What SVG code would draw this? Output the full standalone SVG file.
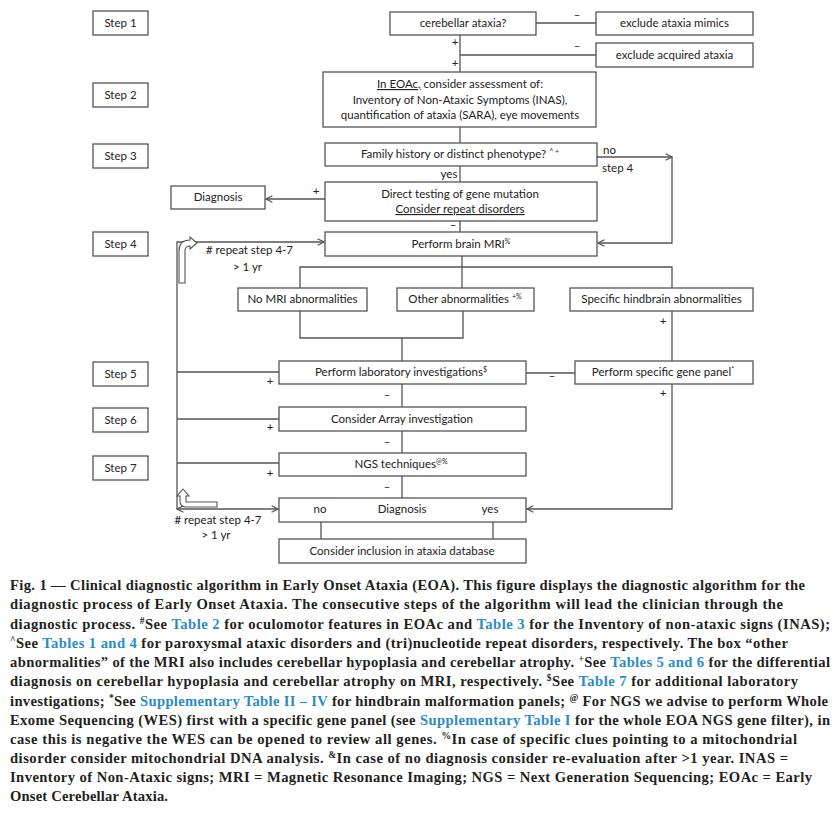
<svg xmlns="http://www.w3.org/2000/svg" width="840" height="813" viewBox="0 0 840 813">
<defs>
<style>
.box{fill:#fff;stroke:#555;stroke-width:1.3}
.t{font-family:Lato,"Open Sans",sans-serif;font-size:11.5px;fill:#222;text-anchor:middle}
.l{font-family:Lato,"Open Sans",sans-serif;font-size:11.5px;fill:#222}
.sm{font-size:7px}
#connectors path{fill:none;stroke:#555;stroke-width:1.3}
.cap{font-family:"Liberation Serif",serif;font-weight:bold;font-size:14.6px;fill:#231f20}
.lnk{fill:#2b8cc4}
.sup{font-size:9.5px}
.hollow{fill:#fff;stroke:#555;stroke-width:1.1}
</style>
<marker id="ar" viewBox="0 0 10 10" refX="9" refY="5" markerWidth="8" markerHeight="8" markerUnits="userSpaceOnUse" orient="auto-start-reverse">
<path d="M1,1 L9,5 L1,9" fill="none" stroke="#555" stroke-width="1.5"/>
</marker>
</defs>
<rect width="840" height="813" fill="#fff"/>

<g id="steps">
<g id="step1"><rect class="box" x="93" y="11" width="55" height="24"/><text class="t" x="120.5" y="27">Step 1</text></g>
<g id="step2"><rect class="box" x="93" y="83" width="55" height="24"/><text class="t" x="120.5" y="99">Step 2</text></g>
<g id="step3"><rect class="box" x="93" y="144" width="55" height="24"/><text class="t" x="120.5" y="160">Step 3</text></g>
<g id="step4"><rect class="box" x="93" y="232" width="55" height="24"/><text class="t" x="120.5" y="248">Step 4</text></g>
<g id="step5"><rect class="box" x="93" y="362" width="55" height="24"/><text class="t" x="120.5" y="378">Step 5</text></g>
<g id="step6"><rect class="box" x="93" y="408" width="55" height="24"/><text class="t" x="120.5" y="424">Step 6</text></g>
<g id="step7"><rect class="box" x="93" y="456" width="55" height="24"/><text class="t" x="120.5" y="472">Step 7</text></g>
</g>

<g id="connectors">
<path d="M536,23 H596"/>
<path d="M460,35 V72"/>
<path d="M460,55 H596"/>
<path d="M460,127 V143"/>
<path d="M597,157 H672" marker-end="url(#ar)"/>
<path d="M672,157 V243 H598" marker-end="url(#ar)"/>
<path d="M460,166 V182"/>
<path d="M325,199 H266" marker-end="url(#ar)"/>
<path d="M460,221 V232"/>
<path d="M177,509 V242 H324" marker-end="url(#ar)"/>
<path d="M177,509 H278" marker-start="url(#ar)" marker-end="url(#ar)"/>
<path d="M462,256 V267"/>
<path d="M300,288 V267 H672 V288"/>
<path d="M462,267 V288"/>
<path d="M300,311 V338 H463 V311"/>
<path d="M402,338 V361"/>
<path d="M672,311 V361"/>
<path d="M526,373 H575"/>
<path d="M177,372 H279"/>
<path d="M177,419 H279"/>
<path d="M177,463 H279"/>
<path d="M402,384 V407"/>
<path d="M402,431 V453"/>
<path d="M402,476 V498"/>
<path d="M672,384 V509 H527" marker-end="url(#ar)"/>
<path d="M321,522 V539"/>
<path d="M493,522 V539"/>
</g>

<g id="connector-labels">
<text class="t" x="577" y="19">–</text>
<text class="t" x="577" y="50">–</text>
<text class="t" x="455" y="46">+</text>
<text class="t" x="455" y="67">+</text>
<text class="l" x="603" y="154">no</text>
<text class="l" x="602" y="172">step 4</text>
<text class="t" x="449" y="178">yes</text>
<text class="t" x="316" y="195">+</text>
<text class="t" x="453" y="229">–</text>
<text class="l" x="206" y="254"># repeat step 4-7</text>
<text class="l" x="233" y="271">&gt; 1 yr</text>
<text class="t" x="663" y="325">+</text>
<text class="t" x="552" y="380">–</text>
<text class="t" x="663" y="397">+</text>
<text class="t" x="270" y="385">+</text>
<text class="t" x="270" y="431">+</text>
<text class="t" x="270" y="477">+</text>
<text class="t" x="387" y="399">–</text>
<text class="t" x="387" y="446">–</text>
<text class="t" x="387" y="491">–</text>
<text class="t" x="218" y="524"># repeat step 4-7</text>
<text class="t" x="216" y="539">&gt; 1 yr</text>
<path class="hollow" d="M179,283 L179,251 Q179,240 190,240 L190,237 L197,243 L190,249 L190,246 Q185,246 185,251 L185,283 Z"/>
<path class="hollow" d="M183,489 L189,496 L186,496 L186,502 L217,502 L217,507 L186,507 Q180,507 180,501 L180,496 L177,496 Z"/>
</g>

<g id="cerebellar">
<rect class="box" x="390" y="12" width="146" height="23"/>
<text class="t" x="463" y="27">cerebellar ataxia?</text>
</g>
<g id="mimics">
<rect class="box" x="596" y="12" width="157" height="23"/>
<text class="t" x="674.5" y="27">exclude ataxia mimics</text>
</g>
<g id="acquired">
<rect class="box" x="596" y="43" width="157" height="24"/>
<text class="t" x="674.5" y="59">exclude acquired ataxia</text>
</g>
<g id="assessment">
<rect class="box" x="323" y="72" width="273" height="55"/>
<text class="t" x="460" y="88"><tspan text-decoration="underline">In EOAc,</tspan> consider assessment of:</text>
<text class="t" x="460" y="104">Inventory of Non-Ataxic Symptoms  (INAS),</text>
<text class="t" x="460" y="119">quantification of ataxia (SARA), eye movements</text>
</g>
<g id="family">
<rect class="box" x="325" y="143" width="272" height="23"/>
<text class="t" x="460" y="158">Family history or distinct phenotype? <tspan class="sm" baseline-shift="super">^ +</tspan></text>
</g>
<g id="direct">
<rect class="box" x="325" y="182" width="272" height="39"/>
<text class="t" x="460" y="198">Direct testing of gene mutation</text>
<text class="t" x="460" y="213" text-decoration="underline">Consider repeat disorders</text>
</g>
<g id="diagnosis1">
<rect class="box" x="171" y="186" width="94" height="23"/>
<text class="t" x="218" y="201">Diagnosis</text>
</g>
<g id="mri">
<rect class="box" x="325" y="232" width="272" height="24"/>
<text class="t" x="461" y="248">Perform  brain MRI<tspan class="sm" baseline-shift="super">%</tspan></text>
</g>
<g id="nomri">
<rect class="box" x="238" y="288" width="129" height="23"/>
<text class="t" x="302.5" y="303">No MRI abnormalities</text>
</g>
<g id="other">
<rect class="box" x="397" y="288" width="137" height="23"/>
<text class="t" x="465" y="303">Other abnormalities <tspan class="sm" baseline-shift="super">+%</tspan></text>
</g>
<g id="hindbrain">
<rect class="box" x="570" y="288" width="183" height="23"/>
<text class="t" x="661.5" y="303">Specific hindbrain  abnormalities</text>
</g>
<g id="lab">
<rect class="box" x="279" y="361" width="247" height="23"/>
<text class="t" x="401" y="376">Perform  laboratory investigations<tspan class="sm" baseline-shift="super">$</tspan></text>
</g>
<g id="genepanel">
<rect class="box" x="575" y="361" width="178" height="23"/>
<text class="t" x="663" y="376">Perform  specific  gene panel<tspan class="sm" baseline-shift="super">*</tspan></text>
</g>
<g id="array">
<rect class="box" x="279" y="407" width="247" height="24"/>
<text class="t" x="402" y="423">Consider Array investigation</text>
</g>
<g id="ngs">
<rect class="box" x="279" y="453" width="247" height="23"/>
<text class="t" x="401" y="468">NGS techniques<tspan class="sm" baseline-shift="super">@%</tspan></text>
</g>
<g id="diagnosis2">
<rect class="box" x="279" y="498" width="247" height="24"/>
<text class="t" x="320" y="513">no</text>
<text class="t" x="402" y="513">Diagnosis</text>
<text class="t" x="490" y="513">yes</text>
</g>
<g id="inclusion">
<rect class="box" x="279" y="539" width="247" height="24"/>
<text class="t" x="402" y="555">Consider inclusion in ataxia database</text>
</g>

<g id="caption" class="cap">
<text x="10" y="590" textLength="795" lengthAdjust="spacing">Fig. 1 — Clinical diagnostic algorithm in Early Onset Ataxia (EOA). This figure displays the diagnostic algorithm for the</text>
<text x="10" y="609" textLength="773" lengthAdjust="spacing">diagnostic process of Early Onset Ataxia. The consecutive steps of the algorithm will lead the clinician through the</text>
<text x="10" y="628.5" textLength="820" lengthAdjust="spacing">diagnostic process. <tspan class="sup" baseline-shift="super">#</tspan>See <tspan class="lnk">Table 2</tspan> for oculomotor features in EOAc and <tspan class="lnk">Table 3</tspan> for the Inventory of non-ataxic signs (INAS);</text>
<text x="10" y="647.5" textLength="778" lengthAdjust="spacing"><tspan class="sup" baseline-shift="super">^</tspan>See <tspan class="lnk">Tables 1 and 4</tspan> for paroxysmal ataxic disorders and (tri)nucleotide repeat disorders, respectively. The box “other</text>
<text x="10" y="667" textLength="820" lengthAdjust="spacing">abnormalities” of the MRI also includes cerebellar hypoplasia and cerebellar atrophy. <tspan class="sup" baseline-shift="super">+</tspan>See <tspan class="lnk">Tables 5 and 6</tspan> for the differential</text>
<text x="10" y="686" textLength="788" lengthAdjust="spacing">diagnosis on cerebellar hypoplasia and cerebellar atrophy on MRI, respectively. <tspan class="sup" baseline-shift="super">$</tspan>See <tspan class="lnk">Table 7</tspan> for additional laboratory</text>
<text x="10" y="705.5" textLength="818" lengthAdjust="spacing">investigations; <tspan class="sup" baseline-shift="super">*</tspan>See <tspan class="lnk">Supplementary Table II – IV</tspan> for hindbrain malformation panels; <tspan class="sup" baseline-shift="super">@</tspan> For NGS we advise to perform Whole</text>
<text x="10" y="724.5" textLength="820" lengthAdjust="spacing">Exome Sequencing (WES) first with a specific gene panel (see <tspan class="lnk">Supplementary Table I</tspan> for the whole EOA NGS gene filter), in</text>
<text x="10" y="743.5" textLength="787" lengthAdjust="spacing">case this is negative the WES can be opened to review all genes. <tspan class="sup" baseline-shift="super">%</tspan>In case of specific clues pointing to a mitochondrial</text>
<text x="10" y="763" textLength="778" lengthAdjust="spacing">disorder consider mitochondrial DNA analysis. <tspan class="sup" baseline-shift="super">&amp;</tspan>In case of no diagnosis consider re-evaluation after &gt;1 year. INAS =</text>
<text x="10" y="782" textLength="802" lengthAdjust="spacing">Inventory of Non-Ataxic signs; MRI = Magnetic Resonance Imaging; NGS = Next Generation Sequencing; EOAc = Early</text>
<text x="10" y="801" textLength="158" lengthAdjust="spacing">Onset Cerebellar Ataxia.</text>
</g>
</svg>
